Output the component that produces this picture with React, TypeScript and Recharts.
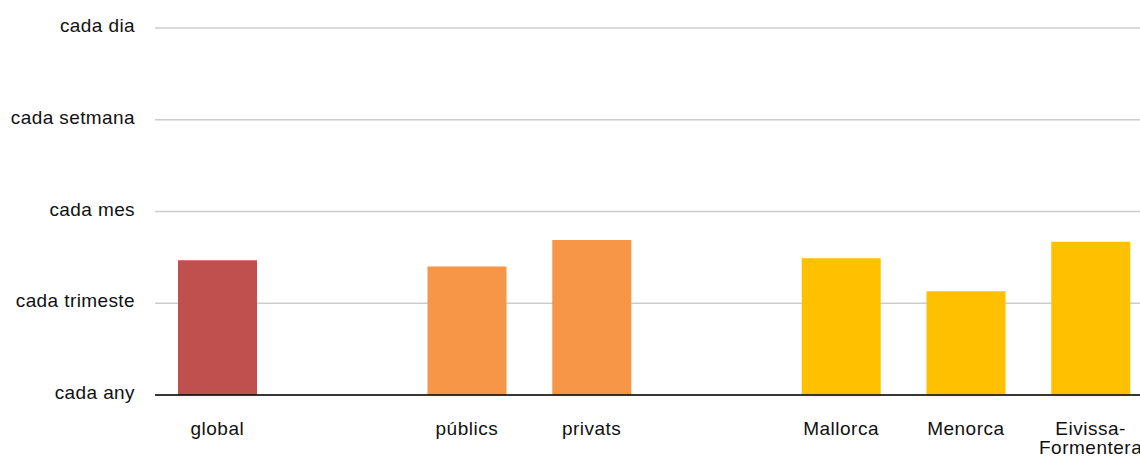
import { Bar, BarChart, CartesianGrid, Cell, XAxis, YAxis } from "recharts";

// slots with no bar are spacers between the groups
const categories = ["global", "", "públics", "privats", " ", "Mallorca", "Menorca", "Eivissa-Formentera"];
const frequency = [1.47, null, 1.4, 1.69, null, 1.49, 1.13, 1.67];
const barColors = ["#C0504D", "#FFFFFF", "#F79646", "#F79646", "#FFFFFF", "#FFC000", "#FFC000", "#FFC000"];
const yLabels = ["cada any", "cada trimeste", "cada mes", "cada setmana", "cada dia"];

const data = categories.map((name, i) => ({ name, value: frequency[i] }));

const font = "'Liberation Sans', Arial, sans-serif";

function YTick(props: any) {
  const { x, y, payload } = props;
  return (
    <text
      x={x}
      y={y + 4}
      textAnchor="end"
      fontFamily={font}
      fontSize={19}
      letterSpacing={0.4}
      fill="#111"
    >
      {yLabels[payload.value]}
    </text>
  );
}

function XTick(props: any) {
  const { x, y, payload } = props;
  const label: string = payload.value || "";
  const lines = label.includes("-")
    ? [label.slice(0, label.indexOf("-") + 1), label.slice(label.indexOf("-") + 1)]
    : [label];
  return (
    <text textAnchor="middle" fontFamily={font} fontSize={19} letterSpacing={0.5} fill="#111">
      {lines.map((line, i) => (
        <tspan key={i} x={x} y={y + 32 + i * 19}>
          {line}
        </tspan>
      ))}
    </text>
  );
}

export default function App() {
  return (
    <div style={{ position: "absolute", left: 0, top: 0, width: 1140, height: 456, overflow: "hidden", background: "#fff" }}>
      <BarChart
        width={1153}
        height={456}
        data={data}
        margin={{ top: 28, right: 0, bottom: 0, left: 0 }}
        barSize={79}
      >
        <CartesianGrid stroke="#cccccc" strokeWidth={1.5} vertical={false} />
        <XAxis
          dataKey="name"
          height={61}
          tickLine={false}
          axisLine={{ stroke: "#000", strokeWidth: 1.5 }}
          interval={0}
          tick={<XTick />}
        />
        <YAxis
          width={155}
          domain={[0, 4]}
          ticks={[0, 1, 2, 3, 4]}
          axisLine={false}
          tickLine={false}
          tickSize={0}
          tickMargin={20}
          tick={<YTick />}
        />
        <Bar dataKey="value" isAnimationActive={false}>
          {data.map((d, i) => (
            <Cell key={i} fill={barColors[i]} />
          ))}
        </Bar>
      </BarChart>
    </div>
  );
}
